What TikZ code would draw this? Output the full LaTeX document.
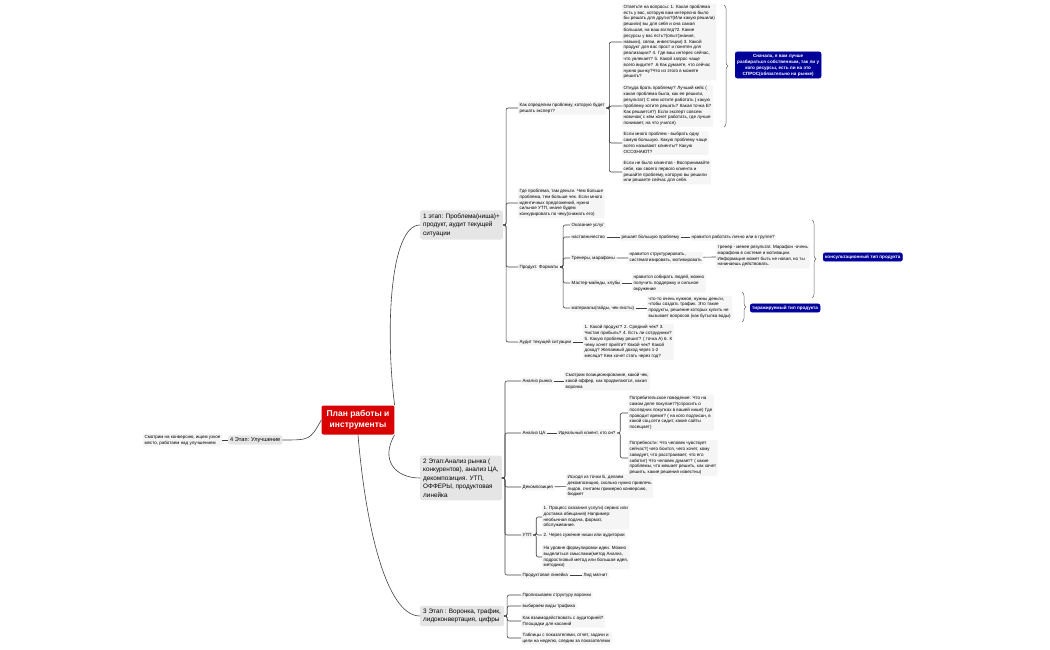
\documentclass[tikz,border=0pt]{standalone}
\usepackage{fontspec}
\setmainfont{Liberation Sans}
\usetikzlibrary{calc,decorations.pathreplacing}
\tikzset{leaf/.style={anchor=west,fill=gray!8,rounded corners=1pt,inner sep=1.5pt,align=left,font=\fontsize{4.5}{5.8}\selectfont},
  stage/.style={fill=gray!20,rounded corners=2pt,inner sep=3pt,align=left,font=\fontsize{6.4}{8.5}\selectfont},
  tag/.style={fill=blue!60!black,draw=blue!70!black,rounded corners=2pt,text=white,inner sep=2pt,align=center,font=\fontsize{4.6}{6}\bfseries\selectfont},
  link/.style={draw=black!75,line width=0.6pt,rounded corners=2pt},
  brc/.style={draw=black!60,line width=0.5pt,decorate,decoration={brace,amplitude=4pt}}}

\begin{document}
\begin{tikzpicture}[x=1pt,y=-1pt]
	\useasboundingbox (0,0) rectangle (1050,650);
	%%root and stages
	\node [fill=red!85!black,text=white,rounded corners=2pt,inner sep=5pt,align=center,font=\fontsize{8.5}{11}\bfseries\selectfont] (root) at (358,420) {План работы и\\инструменты};
	\node [stage,anchor=west] (st1) at (420,225) {1 этап: Проблема(ниша)+\\продукт, аудит текущей\\ситуации};
	\node [stage,anchor=west] (st2) at (420,478) {2 Этап:Анализ рынка (\\конкурентов), анализ ЦА,\\декомпозиция. УТП,\\ОФФЕРЫ, продуктовая\\линейка};
	\node [stage,anchor=west] (st3) at (420,616) {3 Этап : Воронка, трафик,\\лидоконвертация, цифры};
	\node [stage,anchor=west,font=\fontsize{5.6}{7}\selectfont,inner sep=2pt] (st4) at (228,440) {4 Этап: Улучшение};
	\node [leaf,anchor=east] (n4) at (222,440) {Смотрим на конверсию, ищем узкое\\место, работаем над улучшением};
	\draw [link] (root.north east) .. controls (385,330) and (390,225) .. (st1.west);
	\draw [link] (root.south east) .. controls (380,460) and (395,478) .. (st2.west);
	\draw [link] (root.south) .. controls (365,520) and (385,616) .. (st3.west);
	\draw [link] (root.west) .. controls (310,440) .. (st4.east);
	\draw [link] (st4.west) -- (n4.east);
	%%stage 1
	\node [leaf] (a1) at (518,108) {Как определим проблему, которую будет\\решать эксперт?};
	\node [leaf] (a2) at (518,203) {Где проблема, там деньги. Чем больше\\проблема, тем больше чек. Если много\\идентичных предложений, нужно\\сильное УТП, иначе будем\\конкурировать по чеку(снижать его)};
	\node [leaf] (a3) at (518,267) {Продукт. Форматы};
	\node [leaf] (a4) at (518,342) {Аудит текущей ситуации};
	\foreach \n in {a1,a2,a3,a4} \draw [link] (st1.east) -- ++(3,0) |- (\n.west);
	\node [leaf] (q1) at (622,42) {Ответьте на вопросы: 1. Какая проблема\\есть у вас, которую вам интересно было\\бы решать для других?(Или какую решили)\\решили) вы для себя и она самая\\большая, на ваш взгляд?2. Какие\\ресурсы у вас есть?(опыт(знания,\\навыки), связи, инвестиции) 3. Какой\\продукт для вас прост и понятен для\\реализации? 4. Где ваш интерес сейчас,\\что увлекает? 5. Какой запрос чаще\\всего видите? .6 Как думаете, что сейчас\\нужно рынку?Что из этого в можете\\решить?};
	\node [leaf] (q2) at (622,106) {Откуда брать проблему? Лучший кейс (\\какая проблема была, как ее решили,\\результат) С кем хотите работать ( какую\\проблему хотите решать? Какая точка Б?\\Как решается?) Если эксперт совсем\\новичок( с кем хочет работать, где лучше\\понимает, на что учился)};
	\node [leaf] (q3) at (622,143) {Если много проблем - выбрать одну\\самую большую. Какую проблему чаще\\всего называют клиенты? Какую\\ОСОЗНАЮТ?};
	\node [leaf] (q4) at (622,172) {Если не было клиентов - Воспринимайте\\себя, как своего первого клиента и\\решайте проблему, которую вы решили\\или решаете сейчас для себя.};
	\foreach \n in {q1,q2,q3,q4} \draw [link] (a1.east) -- ++(3,0) |- (\n.west);
	\coordinate (b1t) at (724,5);
	\coordinate (b1b) at (724,127);
	\draw [brc] (b1t) -- (b1b);
	\node [tag,anchor=west] (t1) at (735,65) {Сначала, я вам лучше\\разбираться собственным, так ли у\\кого ресурсы, есть ли на это\\СПРОС(обязательно на рынке)};
	%%formats
	\node [leaf] (f1) at (570,225) {Оказание услуг};
	\node [leaf] (f2) at (570,237) {наставничество};
	\node [leaf] (f3) at (570,258) {Тренеры, марафоны};
	\node [leaf] (f4) at (570,283) {Мастер-майнды, клубы};
	\node [leaf] (f5) at (570,308) {материалы(гайды, чек-листы)};
	\foreach \n in {f1,f2,f3,f4,f5} \draw [link] (a3.east) -- ++(3,0) |- (\n.west);
	\node [leaf] (f2a) at (620,237) {решает большую проблему};
	\node [leaf] (f2b) at (690,237) {нравится работать лично или в группе?};
	\node [leaf] (f3a) at (628,258) {нравится структурировать,\\систематизировать, мотивировать};
	\node [leaf] (f3b) at (716,256) {тренер - менее результат. Марафон -очень\\марафона в системе и мотивации.\\Информация может быть не новая, но ты\\начинаешь действовать.};
	\node [leaf] (f4a) at (632,283) {нравится собирать людей, можно\\получить поддержку и сильное\\окружение};
	\node [leaf] (f5a) at (647,308) {что-то очень нужное, нужны деньги,\\чтобы создать трафик. Это такие\\продукты, решение которых купить не\\вызывает вопросов (как бутылка воды)};
	\draw [link] (f2) -- (f2a) -- (f2b);
	\draw [link] (f3) -- (f3a) -- (f3b);
	\draw [link] (f4) -- (f4a);
	\draw [link] (f5) -- (f5a);
	\coordinate (b2t) at (812,220);
	\coordinate (b2b) at (812,298);
	\draw [brc] (b2t) -- (b2b);
	\node [tag,anchor=west] (t2) at (823,257) {консультационный тип продукта};
	\coordinate (b3t) at (742,292);
	\coordinate (b3b) at (742,322);
	\draw [brc] (b3t) -- (b3b);
	\node [tag,anchor=west] (t3) at (750,308) {тиражируемый тип продукта};
	\node [leaf] (au) at (583,342) {1. Какой продукт? 2. Средний чек? 3.\\Чистая прибыль? 4. Есть ли сотрудники?\\5. Какую проблему решит? ( точка А) 6. К\\чему хочет прийти? Какой чек? Какой\\доход? Желаемый доход через 1-2\\месяца? Кем хочет стать через год?};
	\draw [link] (a4) -- (au);
	%%stage 2
	\node [leaf] (m1) at (521,381) {Анализ рынка};
	\node [leaf] (m2) at (521,433) {Анализ ЦА};
	\node [leaf] (m3) at (521,487) {Декомпозиция};
	\node [leaf] (m4) at (521,535) {УТП};
	\node [leaf] (m5) at (521,575) {Продуктовая линейка};
	\foreach \n in {m1,m2,m3,m4,m5} \draw [link] (st2.east) -- ++(3,0) |- (\n.west);
	\node [leaf] (m1a) at (564,381) {Смотрим позиционирование, какой чек,\\какой оффер, как продвигаются, какая\\воронка};
	\node [leaf] (m2a) at (557,433) {Идеальный клиент, кто он?};
	\node [leaf] (m2b) at (628,413) {Потребительское поведение: Что на\\самом деле покупает?(спросить о\\последних покупках в вашей нише) Где\\проводит время? ( на кого подписан, в\\какой соц.сети сидит, какие сайты\\посещает)};
	\node [leaf] (m2c) at (628,458) {Потребности: Что человек чувствует\\сейчас?( чего боится, чего хочет, кому\\завидует, что расстраивает, что его\\заботит) Что человек думает? ( какие\\проблемы, что мешает решить, как хочет\\решить, какие решения известны)};
	\node [leaf] (m3a) at (566,486) {Исходя из точки Б, делаем\\декомпозицию, сколько нужно привлечь\\лидов, считаем примерно конверсию,\\бюджет};
	\node [leaf] (m4a) at (542,517) {1. Процесс оказания услуги( сервис или\\доставка обещания) Например:\\необычная подача, формат,\\обслуживание.};
	\node [leaf] (m4b) at (542,535) {2. Через сужение ниши или аудитории};
	\node [leaf] (m4c) at (542,557) {На уровне формулировки идеи. Можно\\выделиться смыслами(метод Анализ,\\подростковый метод или большая идея,\\методики)};
	\node [leaf] (m5a) at (582,575) {Лид магнит};
	\draw [link] (m1) -- (m1a);
	\draw [link] (m2) -- (m2a);
	\foreach \n in {m2b,m2c} \draw [link] (m2a.east) -- ++(3,0) |- (\n.west);
	\draw [link] (m3) -- (m3a);
	\foreach \n in {m4a,m4b,m4c} \draw [link] (m4.east) -- ++(3,0) |- (\n.west);
	\draw [link] (m5) -- (m5a);
	%%stage 3
	\node [leaf] (v1) at (521,595) {Прописываем структуру воронки};
	\node [leaf] (v2) at (521,606) {выбираем виды трафика};
	\node [leaf] (v3) at (521,621) {Как взаимодействовать с аудиторией?\\Площадки для касаний};
	\node [leaf] (v4) at (521,638) {Таблицы с показателями, отчет, задачи и\\цели на неделю, следим за показателями};
	\foreach \n in {v1,v2,v3,v4} \draw [link] (st3.east) -- ++(3,0) |- (\n.west);
\end{tikzpicture}
\end{document}
